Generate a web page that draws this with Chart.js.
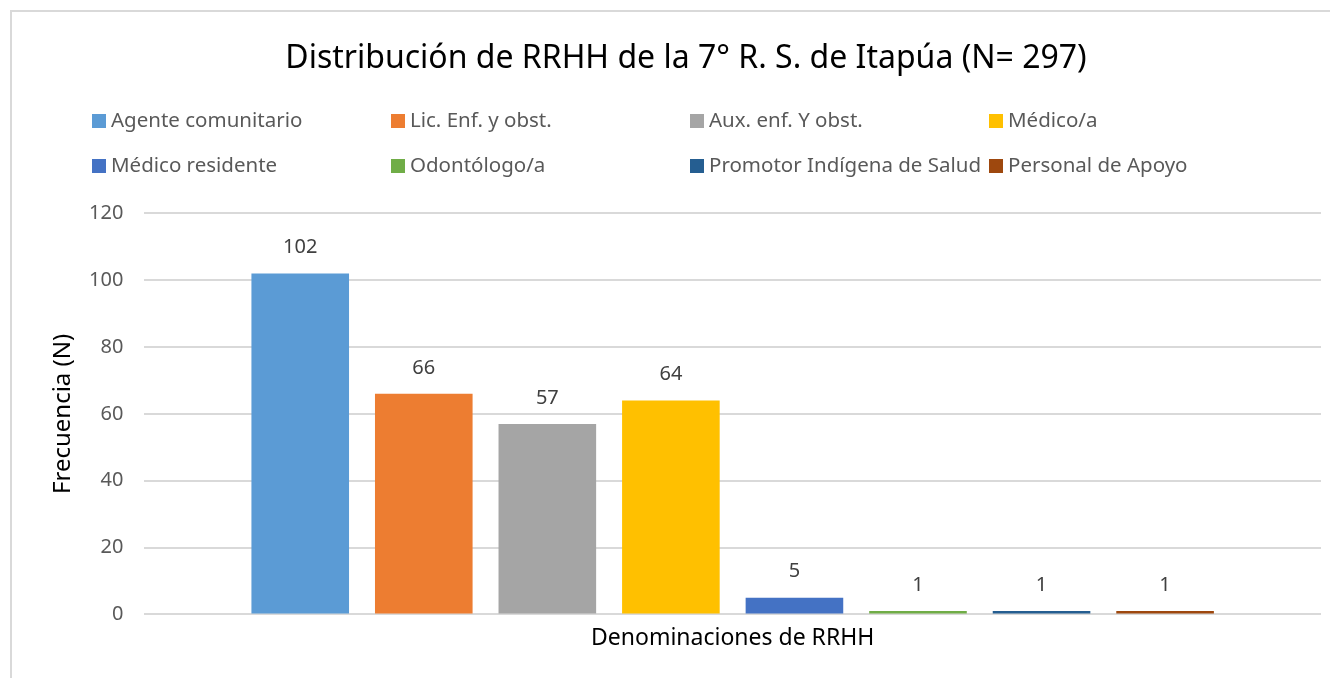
<!DOCTYPE html>
<html>
<head>
<meta charset="utf-8">
<script src="https://cdn.jsdelivr.net/npm/chart.js@4"></script>
<style>
  body { margin: 0; background: #fff; overflow: hidden; }
  #frame {
    position: absolute; left: 10px; top: 10px;
    width: 1340px; height: 700px;
    border: 2px solid #d9d9d9; box-sizing: border-box;
  }
  #wrap { position: absolute; left: 0; top: 0; width: 1330px; height: 678px; }
</style>
</head>
<body>
<div id="frame"></div>
<div id="wrap"><canvas id="chart"></canvas></div>
<script>
const categories = ['Denominaciones de RRHH'];
const seriesNames = [
  'Agente comunitario', 'Lic. Enf. y obst.', 'Aux. enf. Y obst.', 'Médico/a',
  'Médico residente', 'Odontólogo/a', 'Promotor Indígena de Salud', 'Personal de Apoyo'
];
const seriesValues = [102, 66, 57, 64, 5, 1, 1, 1];
const seriesColors = ['#5b9bd5', '#ed7d31', '#a5a5a5', '#ffc000', '#4472c4', '#70ad47', '#255e91', '#9e480e'];
const yMin = 0, yMax = 120, yStep = 20;

const FONT = 'Noto Sans';

// value labels above each bar
const valueLabels = {
  id: 'valueLabels',
  afterDatasetsDraw(chart) {
    const ctx = chart.ctx;
    ctx.save();
    ctx.font = '20px "' + FONT + '"';
    ctx.fillStyle = '#404040';
    ctx.textAlign = 'center';
    ctx.textBaseline = 'middle';
    chart.data.datasets.forEach((ds, i) => {
      chart.getDatasetMeta(i).data.forEach((bar, j) => {
        ctx.fillText(ds.data[j], bar.x, bar.y - 26);
      });
    });
    ctx.restore();
  }
};

// legend in 4 fixed columns, 2 rows (like Excel)
const gridLegend = {
  id: 'gridLegend',
  afterDraw(chart) {
    const ctx = chart.ctx;
    ctx.save();
    ctx.font = '20.5px "' + FONT + '"';
    ctx.textBaseline = 'middle';
    ctx.textAlign = 'left';
    chart.data.datasets.forEach((ds, i) => {
      const col = i % 4, row = Math.floor(i / 4);
      const x = 92 + col * 299;
      const y = 121 + row * 45;
      ctx.fillStyle = ds.backgroundColor;
      ctx.fillRect(x, y - 7, 14, 14);
      ctx.fillStyle = '#595959';
      ctx.fillText(ds.label, x + 19, y);
    });
    ctx.restore();
  }
};

new Chart(document.getElementById('chart'), {
  type: 'bar',
  data: {
    labels: categories,
    datasets: seriesNames.map((name, i) => ({
      label: name,
      data: [seriesValues[i]],
      backgroundColor: seriesColors[i],
      categoryPercentage: 0.84,
      barPercentage: 0.79
    }))
  },
  options: {
    responsive: true,
    maintainAspectRatio: false,
    animation: false,
    layout: { padding: { left: 51, right: 9, bottom: 24 } },
    plugins: {
      legend: { display: false },
      tooltip: { enabled: false },
      title: {
        display: true,
        text: 'Distribución de RRHH de la 7° R. S. de Itapúa (N= 297)',
        color: '#000',
        font: { family: FONT, size: 32, weight: 'normal' },
        padding: { top: 40, bottom: 135 }
      }
    },
    scales: {
      x: {
        grid: { display: false },
        border: { display: false },
        ticks: { color: '#000', font: { family: FONT, size: 23 }, padding: 2 }
      },
      y: {
        min: yMin, max: yMax,
        ticks: { stepSize: yStep, color: '#595959', font: { family: FONT, size: 20 }, padding: 21 },
        grid: { color: '#d9d9d9', lineWidth: 2, drawTicks: false },
        border: { display: false },
        title: {
          display: true, text: 'Frecuencia (N)', color: '#000',
          font: { family: FONT, size: 24, lineHeight: 1 }, padding: { top: 0, bottom: -7 }
        }
      }
    }
  },
  plugins: [valueLabels, gridLegend]
});
</script>
</body>
</html>
